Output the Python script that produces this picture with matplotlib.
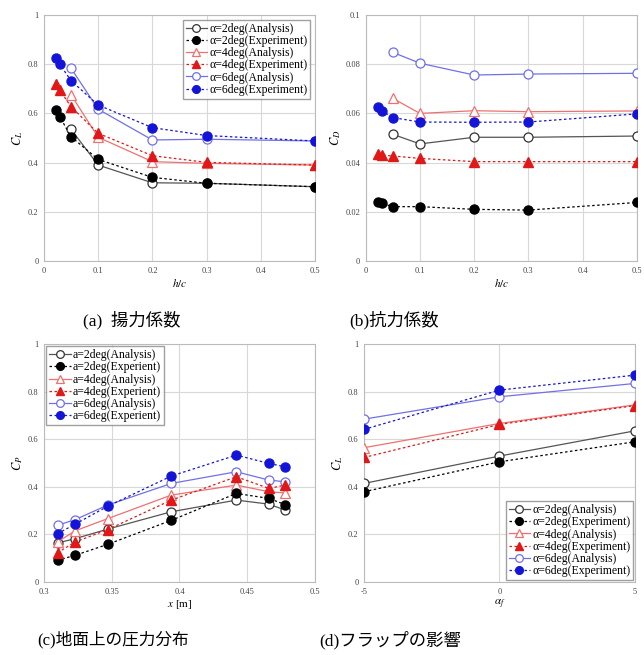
import numpy as np
import matplotlib.pyplot as plt
from matplotlib.ticker import FuncFormatter

plt.rcParams['font.family'] = ['Liberation Serif', 'Noto Sans CJK JP', 'DejaVu Sans']
plt.rcParams['mathtext.fontset'] = 'stix'

# (a) lift coefficient vs h/c
hc_exp = [0.023, 0.029, 0.05, 0.1, 0.2, 0.3, 0.5]
hc_ana = [0.05, 0.1, 0.2, 0.3, 0.5]
cl_a2_ana = [0.535, 0.39, 0.318, 0.316, 0.302]
cl_a2_exp = [0.614, 0.587, 0.505, 0.413, 0.34, 0.316, 0.302]
cl_a4_ana = [0.675, 0.503, 0.404, 0.397, 0.39]
cl_a4_exp = [0.718, 0.695, 0.627, 0.519, 0.428, 0.401, 0.39]
cl_a6_ana = [0.783, 0.617, 0.492, 0.495, 0.488]
cl_a6_exp = [0.824, 0.80, 0.733, 0.634, 0.542, 0.51, 0.488]

# (b) drag coefficient vs h/c
cd_a2_ana = [0.0515, 0.0476, 0.0503, 0.0503, 0.0508]
cd_a2_exp = [0.0241, 0.0234, 0.0221, 0.0221, 0.021, 0.0207, 0.0238]
cd_a4_ana = [0.0661, 0.060, 0.0611, 0.0607, 0.061]
cd_a4_exp = [0.0435, 0.0431, 0.0427, 0.0417, 0.0404, 0.0404, 0.0404]
cd_a6_ana = [0.0848, 0.0804, 0.0756, 0.076, 0.0763]
cd_a6_exp = [0.0627, 0.061, 0.0583, 0.0565, 0.0564, 0.0565, 0.0598]

# (c) pressure on ground
x_pos = [0.310, 0.323, 0.347, 0.394, 0.442, 0.466, 0.478]
cp_a2_ana = [0.164, 0.182, 0.222, 0.295, 0.344, 0.327, 0.302]
cp_a2_exp = [0.091, 0.112, 0.158, 0.259, 0.372, 0.351, 0.325]
cp_a4_ana = [0.168, 0.215, 0.266, 0.365, 0.407, 0.379, 0.374]
cp_a4_exp = [0.123, 0.168, 0.22, 0.344, 0.442, 0.393, 0.407]
cp_a6_ana = [0.238, 0.262, 0.323, 0.414, 0.463, 0.428, 0.421]
cp_a6_exp = [0.203, 0.243, 0.318, 0.445, 0.533, 0.498, 0.484]

# (d) flap angle
flap = [-5, 0, 5]
fl_a2_ana = [0.414, 0.529, 0.635]
fl_a2_exp = [0.379, 0.505, 0.589]
fl_a4_ana = [0.564, 0.666, 0.744]
fl_a4_exp = [0.523, 0.662, 0.741]
fl_a6_ana = [0.684, 0.778, 0.834]
fl_a6_exp = [0.641, 0.806, 0.869]

labels_std = ['α=2deg(Analysis)', 'α=2deg(Experiment)', 'α=4deg(Analysis)',
              'α=4deg(Experiment)', 'α=6deg(Analysis)', 'α=6deg(Experiment)']
labels_c = ['a=2deg(Analysis)', 'a=2deg(Experient)', 'a=4deg(Analysis)',
            'a=4deg(Experient)', 'a=6deg(Analysis)', 'a=6deg(Experient)']

col_exp = ['#000000', '#e01818', '#1414d8']
col_ana = ['#555555', '#f07070', '#7070e8']
mk = ['o', '^', 'o']

leg_kw = dict(fontsize=8.5, frameon=True, fancybox=False, edgecolor='#888888',
              handlelength=1.8, handletextpad=0.2, labelspacing=0.02,
              borderpad=0.25, markerscale=0.85)


def fmt(v, pos):
    s = ('%.2f' % v).rstrip('0').rstrip('.')
    return s


def draw(ax, xa, ana, xe, exp, labels):
    for i in range(3):
        ax.plot(xa, ana[i], color=col_ana[i], lw=0.9, ls='-', marker=mk[i],
                mfc='white', mec=col_ana[i] if i else '#333333', ms=6.5, mew=0.9,
                label=labels[2 * i], zorder=3)
        ax.plot(xe, exp[i], color=col_exp[i], lw=0.9, ls=(0, (2, 2)), marker=mk[i],
                mfc=col_exp[i], mec=col_exp[i], ms=6.5, label=labels[2 * i + 1], zorder=4)
    ax.grid(True, color='#d8d8d8', lw=0.8)
    ax.set_axisbelow(True)
    for s in ax.spines.values():
        s.set_color('#bbbbbb')
    ax.tick_params(length=0, labelsize=6, colors='#444444', pad=4)
    ax.xaxis.set_major_formatter(FuncFormatter(fmt))
    ax.yaxis.set_major_formatter(FuncFormatter(fmt))


fig = plt.figure(figsize=(6.44, 6.55), dpi=100)
W = 0.4208
axa = fig.add_axes([0.0683, 0.6015, W, 0.3756])
axb = fig.add_axes([0.568, 0.6015, W, 0.3756])
axc = fig.add_axes([0.0683, 0.1115, W, 0.3634])
axd = fig.add_axes([0.5652, 0.1115, W, 0.3634])

draw(axa, hc_ana, [cl_a2_ana, cl_a4_ana, cl_a6_ana], hc_exp,
     [cl_a2_exp, cl_a4_exp, cl_a6_exp], labels_std)
axa.set_xlim(0, 0.5)
axa.set_ylim(0, 1)
axa.set_xticks(np.arange(0, 0.51, 0.1))
axa.set_yticks(np.arange(0, 1.01, 0.2))
axa.set_xlabel('$h/c$', fontsize=8, labelpad=2)
axa.set_ylabel('$C_L$', fontsize=9, labelpad=2)
axa.legend(loc='upper right', borderaxespad=0.4, **leg_kw)

draw(axb, hc_ana, [cd_a2_ana, cd_a4_ana, cd_a6_ana], hc_exp,
     [cd_a2_exp, cd_a4_exp, cd_a6_exp], labels_std)
axb.set_xlim(0, 0.5)
axb.set_ylim(0, 0.1)
axb.set_xticks(np.arange(0, 0.51, 0.1))
axb.set_yticks(np.arange(0, 0.101, 0.02))
axb.set_xlabel('$h/c$', fontsize=8, labelpad=2)
axb.set_ylabel('$C_D$', fontsize=9, labelpad=2)

draw(axc, x_pos, [cp_a2_ana, cp_a4_ana, cp_a6_ana], x_pos,
     [cp_a2_exp, cp_a4_exp, cp_a6_exp], labels_c)
axc.set_xlim(0.3, 0.5)
axc.set_ylim(0, 1)
axc.set_xticks([0.3, 0.35, 0.4, 0.45, 0.5])
axc.set_yticks(np.arange(0, 1.01, 0.2))
axc.set_xlabel('$x$ [m]', fontsize=8, labelpad=2)
axc.set_ylabel('$C_P$', fontsize=9, labelpad=2)
axc.legend(loc='upper left', borderaxespad=0.2, **leg_kw)

draw(axd, flap, [fl_a2_ana, fl_a4_ana, fl_a6_ana], flap,
     [fl_a2_exp, fl_a4_exp, fl_a6_exp], labels_std)
axd.set_xlim(-5, 5)
axd.set_ylim(0, 1)
axd.set_xticks([-5, 0, 5])
axd.set_yticks(np.arange(0, 1.01, 0.2))
axd.set_xlabel(r'$\alpha_f$', fontsize=8, labelpad=2)
axd.set_ylabel('$C_L$', fontsize=9, labelpad=2)
axd.legend(loc='lower right', borderaxespad=0.15, **leg_kw)

fig.text(132 / 644, 1 - 320 / 655, '(a)  揚力係数', ha='center', va='center', fontsize=12.5)
fig.text(394 / 644, 1 - 320 / 655, '(b)抗力係数', ha='center', va='center', fontsize=12.5)
fig.text(113 / 644, 1 - 640 / 655, '(c)地面上の圧力分布', ha='center', va='center', fontsize=12)
fig.text(390 / 644, 1 - 640 / 655, '(d)フラップの影響', ha='center', va='center', fontsize=12.5)

fig.savefig('out.png', dpi=100)
